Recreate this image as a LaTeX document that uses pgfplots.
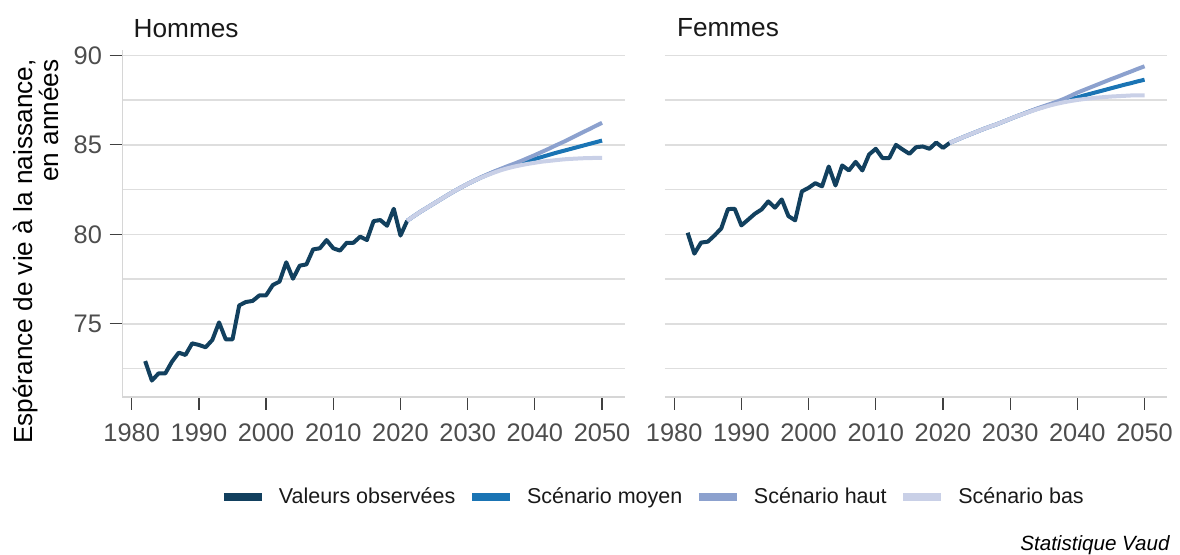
\documentclass[border=0pt]{standalone}
\usepackage{pgfplots}
\pgfplotsset{compat=1.18}
\usepackage{pgfplotstable}
\usepackage{fontspec}
\setmainfont{Liberation Sans}
\definecolor{obs}{HTML}{12405E}
\definecolor{moy}{HTML}{1A74B4}
\definecolor{hau}{HTML}{8CA1CE}
\definecolor{bas}{HTML}{C9D0E7}
\definecolor{tickgray}{HTML}{4D4D4D}
\definecolor{gridgray}{HTML}{DEDEDE}
\definecolor{axgray}{HTML}{D6D6D6}

\pgfplotstableread{
year val
1982 72.92
1983 71.83
1984 72.23
1985 72.23
1986 72.89
1987 73.39
1988 73.26
1989 73.91
1990 73.82
1991 73.69
1992 74.10
1993 75.08
1994 74.13
1995 74.13
1996 76.03
1997 76.22
1998 76.28
1999 76.59
2000 76.59
2001 77.17
2002 77.36
2003 78.44
2004 77.52
2005 78.25
2006 78.32
2007 79.16
2008 79.22
2009 79.68
2010 79.22
2011 79.09
2012 79.53
2013 79.53
2014 79.87
2015 79.68
2016 80.74
2017 80.80
2018 80.48
2019 81.43
2020 79.93
2021 80.76
}\hommesobs

\pgfplotstableread{
year moyen haut bas
2021 80.76 80.76 80.76
2022 81.02 81.02 81.02
2023 81.27 81.27 81.27
2024 81.50 81.50 81.50
2025 81.73 81.73 81.73
2026 81.96 81.96 81.96
2027 82.19 82.19 82.19
2028 82.41 82.41 82.41
2029 82.62 82.62 82.62
2030 82.82 82.82 82.82
2031 83.00 83.01 83.00
2032 83.18 83.19 83.17
2033 83.34 83.36 83.32
2034 83.50 83.52 83.46
2035 83.64 83.67 83.59
2036 83.77 83.82 83.70
2037 83.88 83.96 83.79
2038 83.99 84.11 83.87
2039 84.10 84.27 83.94
2040 84.21 84.43 84.00
2041 84.32 84.60 84.06
2042 84.43 84.77 84.10
2043 84.54 84.95 84.14
2044 84.64 85.12 84.18
2045 84.74 85.30 84.21
2046 84.84 85.49 84.23
2047 84.94 85.68 84.25
2048 85.04 85.86 84.26
2049 85.14 86.05 84.27
2050 85.24 86.23 84.27
}\hommesproj

\pgfplotstableread{
year val
1982 80.09
1983 78.92
1984 79.54
1985 79.59
1986 79.94
1987 80.33
1988 81.41
1989 81.43
1990 80.50
1991 80.82
1992 81.15
1993 81.39
1994 81.84
1995 81.49
1996 81.95
1997 81.02
1998 80.78
1999 82.40
2000 82.60
2001 82.86
2002 82.68
2003 83.79
2004 82.73
2005 83.85
2006 83.57
2007 84.05
2008 83.57
2009 84.46
2010 84.78
2011 84.26
2012 84.26
2013 85.00
2014 84.74
2015 84.50
2016 84.87
2017 84.91
2018 84.78
2019 85.13
2020 84.83
2021 85.11
}\femmesobs

\pgfplotstableread{
year moyen haut bas
2021 85.11 85.11 85.11
2022 85.27 85.27 85.27
2023 85.43 85.43 85.43
2024 85.58 85.58 85.58
2025 85.73 85.73 85.73
2026 85.88 85.88 85.88
2027 86.02 86.02 86.02
2028 86.15 86.15 86.15
2029 86.30 86.30 86.30
2030 86.45 86.45 86.45
2031 86.60 86.60 86.60
2032 86.74 86.74 86.73
2033 86.88 86.89 86.86
2034 87.01 87.03 86.99
2035 87.13 87.16 87.10
2036 87.25 87.29 87.21
2037 87.36 87.42 87.30
2038 87.47 87.57 87.38
2039 87.56 87.74 87.45
2040 87.65 87.92 87.51
2041 87.76 88.07 87.56
2042 87.86 88.22 87.60
2043 87.96 88.37 87.64
2044 88.06 88.52 87.67
2045 88.16 88.67 87.70
2046 88.26 88.81 87.72
2047 88.36 88.96 87.74
2048 88.45 89.10 87.76
2049 88.55 89.25 87.77
2050 88.64 89.39 87.77
}\femmesproj

\pgfplotsset{
  panel/.style={
    scale only axis, width=251.3pt, height=173.6pt, anchor=south west,
    xmin=1978.6, xmax=2053.4, ymin=70.9, ymax=90.3,
    xtick={1980,1990,...,2050},
    ytick={75,80,85,90},
    minor ytick={72.5,77.5,82.5,87.5},
    ymajorgrids, yminorgrids,
    major grid style={gridgray, line width=0.8pt},
    minor grid style={gridgray, line width=0.8pt},
    minor tick length=0pt,
    tick align=outside, major tick length=6.3pt,
    major tick style={draw=black!75, line width=0.6pt},
    /pgf/number format/assume math mode=true,
    /pgf/number format/1000 sep={},
    tick label style={font=\fontsize{12.7}{15}\selectfont, text=tickgray},
    xticklabel style={anchor=north, inner sep=0pt, yshift=-7pt},
    yticklabel style={anchor=east, inner sep=0pt, xshift=-3.7pt},
    axis line style={draw=axgray, line width=0.8pt, -},
    clip=false,
  },
  obsline/.style={obs, line width=2pt, line join=round},
  moyline/.style={moy, line width=2pt, line join=round},
  hauline/.style={hau, line width=2pt, line join=round},
  basline/.style={bas, line width=2pt, line join=round},
}

\begin{document}
\begin{tikzpicture}[x=1pt,y=1pt]
\useasboundingbox (0,0) rectangle (590,277);

\begin{axis}[panel, at={(61.15pt,78.4pt)},
  axis x line*=bottom, axis y line*=left,
  legend columns=4,
  legend style={at={(0.1943,-0.2874)}, anchor=west, draw=none, fill=none,
    inner sep=0pt, outer sep=0pt,
    font=\fontsize{10.75}{12}\selectfont,
    nodes={inner sep=0pt, text=black!90},
    /tikz/every odd column/.append style={column sep=6.5pt},
    /tikz/every even column/.append style={column sep=6.3pt}},
  legend image code/.code={\draw[line width=4pt] (0pt,0pt) -- (19pt,0pt);},
]
\addplot[obsline] table[x=year, y=val] {\hommesobs};
\addlegendentry{Valeurs observées}
\addplot[moyline] table[x=year, y=moyen] {\hommesproj};
\addlegendentry{Scénario moyen}
\addplot[hauline] table[x=year, y=haut] {\hommesproj};
\addlegendentry{Scénario haut}
\addplot[basline] table[x=year, y=bas] {\hommesproj};
\addlegendentry{Scénario bas}
\end{axis}

\begin{axis}[panel, at={(332.4pt,78.4pt)},
  axis x line*=bottom, axis y line*=left,
  y axis line style={draw=none},
  ytick style={draw=none},
  yticklabels={},
]
\addplot[obsline] table[x=year, y=val] {\femmesobs};
\addplot[moyline] table[x=year, y=moyen] {\femmesproj};
\addplot[hauline] table[x=year, y=haut] {\femmesproj};
\addplot[basline] table[x=year, y=bas] {\femmesproj};
\end{axis}

\node[anchor=base west, inner sep=0pt, text=black!90, font=\fontsize{13.1}{15}\selectfont] at (66.65,258.35) {Hommes};
\node[anchor=base west, inner sep=0pt, text=black!90, font=\fontsize{13.1}{15}\selectfont] at (338.3,258.6) {Femmes};

\node[rotate=90, anchor=base east, inner sep=0pt, font=\fontsize{13.1}{15}\selectfont] at (16.5,247.5) {Espérance de vie à la naissance,};
\node[rotate=90, anchor=base east, inner sep=0pt, font=\fontsize{13.1}{15}\selectfont] at (29.3,247.5) {en années};

\node[anchor=base east, inner sep=0pt, font=\fontsize{10.3}{12}\selectfont\itshape] at (585,1.6) {Statistique Vaud};
\end{tikzpicture}
\end{document}
